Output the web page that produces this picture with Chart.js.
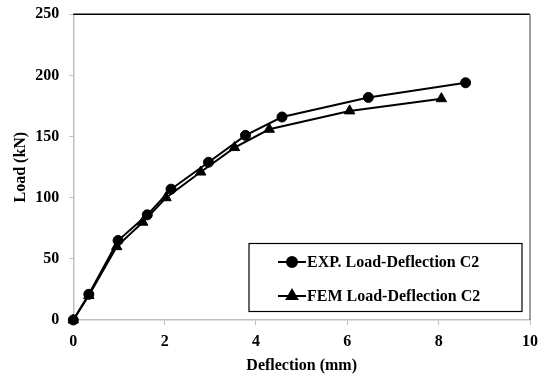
<!DOCTYPE html>
<html>
<head>
<meta charset="utf-8">
<script src="https://cdn.jsdelivr.net/npm/chart.js@4/dist/chart.umd.min.js"></script>
<style>
  html, body { margin: 0; padding: 0; background: #fff; }
  #wrap { width: 545px; height: 379px; }
</style>
</head>
<body>
<div id="wrap"><canvas id="c" width="545" height="379"></canvas></div>
<script>
// 値は図から目読み
const expDeflection = [0, 0.34, 0.98, 1.62, 2.14, 2.96, 3.77, 4.57, 6.46, 8.59];
const expLoad = [0, 21, 65, 86, 107, 129, 151, 166, 182, 194];
const femDeflection = [0, 0.34, 0.95, 1.52, 2.03, 2.79, 3.53, 4.29, 6.05, 8.06];
const femLoad = [0, 20, 60, 80, 100, 121, 141, 156, 171, 181];

const seriesLabels = ['EXP. Load-Deflection C2', 'FEM Load-Deflection C2'];
const xTitle = 'Deflection (mm)';
const yTitle = 'Load (kN)';

const FONT = '"Liberation Serif", "Times New Roman", serif';
const AXIS_GREY = '#bfbfbf';

const toPoints = (xs, ys) => xs.map((x, i) => ({ x, y: ys[i] }));

// 枠線（上:黒, 右:灰）と凡例ボックスを描く
const framePlugin = {
  id: 'frame',
  afterDatasetsDraw(chart) {
    const { ctx, chartArea: a } = chart;
    ctx.save();
    ctx.lineWidth = 1.5;
    ctx.strokeStyle = '#000';
    ctx.beginPath();
    ctx.moveTo(a.left, a.top);
    ctx.lineTo(a.right, a.top);
    ctx.stroke();
    ctx.strokeStyle = '#7f7f7f';
    ctx.beginPath();
    ctx.moveTo(a.right, a.top);
    ctx.lineTo(a.right, a.bottom);
    ctx.stroke();
    ctx.restore();
  },
  afterDraw(chart) {
    const { ctx } = chart;
    const box = { x: 249, y: 243.5, w: 273, h: 68 };
    ctx.save();
    ctx.fillStyle = '#fff';
    ctx.fillRect(box.x, box.y, box.w, box.h);
    ctx.strokeStyle = '#000';
    ctx.lineWidth = 1.2;
    ctx.strokeRect(box.x, box.y, box.w, box.h);
    const rows = [262, 296];
    chart.data.datasets.forEach((ds, i) => {
      const y = rows[i];
      ctx.strokeStyle = ds.borderColor;
      ctx.lineWidth = ds.borderWidth;
      ctx.beginPath();
      ctx.moveTo(278, y);
      ctx.lineTo(306, y);
      ctx.stroke();
      Chart.helpers.drawPoint(ctx, {
        pointStyle: ds.pointStyle,
        radius: ds.pointRadius,
        borderWidth: 1,
        rotation: 0,
      }, 292, y);
      ctx.fillStyle = '#000';
      ctx.fill();
      ctx.font = 'bold 16px ' + FONT;
      ctx.textBaseline = 'middle';
      ctx.textAlign = 'left';
      ctx.fillText(ds.label, 307, y + 1);
    });
    ctx.restore();
  },
};

new Chart(document.getElementById('c').getContext('2d'), {
  type: 'line',
  data: {
    datasets: [
      {
        label: seriesLabels[0],
        data: toPoints(expDeflection, expLoad),
        borderColor: '#000',
        backgroundColor: '#000',
        borderWidth: 2,
        pointStyle: 'circle',
        pointRadius: 5,
        pointBorderWidth: 1,
        tension: 0,
        clip: false,
      },
      {
        label: seriesLabels[1],
        data: toPoints(femDeflection, femLoad),
        borderColor: '#000',
        backgroundColor: '#000',
        borderWidth: 2,
        pointStyle: 'triangle',
        pointRadius: 6,
        pointBorderWidth: 1,
        tension: 0,
        clip: false,
      },
    ],
  },
  options: {
    responsive: false,
    animation: false,
    layout: { padding: { left: 0, right: 14.5, top: 14.3, bottom: 0 } },
    plugins: { legend: { display: false }, tooltip: { enabled: false } },
    scales: {
      x: {
        type: 'linear',
        min: 0,
        max: 10,
        ticks: { stepSize: 2, color: '#000', padding: 7, font: { family: FONT, size: 16, weight: 'bold' } },
        grid: { drawOnChartArea: false, drawTicks: true, tickLength: 5, color: AXIS_GREY },
        border: { color: AXIS_GREY, width: 1.5 },
        title: { display: true, text: xTitle, color: '#000', padding: { top: 0, bottom: 4 }, font: { family: FONT, size: 16, weight: 'bold' } },
        afterFit(scale) { scale.height = 59; },
      },
      y: {
        min: 0,
        max: 250,
        // lineHeight を小さくして上端の余白が増えないようにする
        ticks: { stepSize: 50, color: '#000', padding: 10, font: { family: FONT, size: 16, weight: 'bold', lineHeight: 0.3 } },
        grid: { drawOnChartArea: false, drawTicks: true, tickLength: 4, color: AXIS_GREY },
        border: { color: AXIS_GREY, width: 1.5 },
        title: { display: true, text: yTitle, color: '#000', padding: { top: 11, bottom: 0 }, font: { family: FONT, size: 16, weight: 'bold' } },
        afterFit(scale) { scale.width = 73.3; },
      },
    },
  },
  plugins: [framePlugin],
});
</script>
</body>
</html>
